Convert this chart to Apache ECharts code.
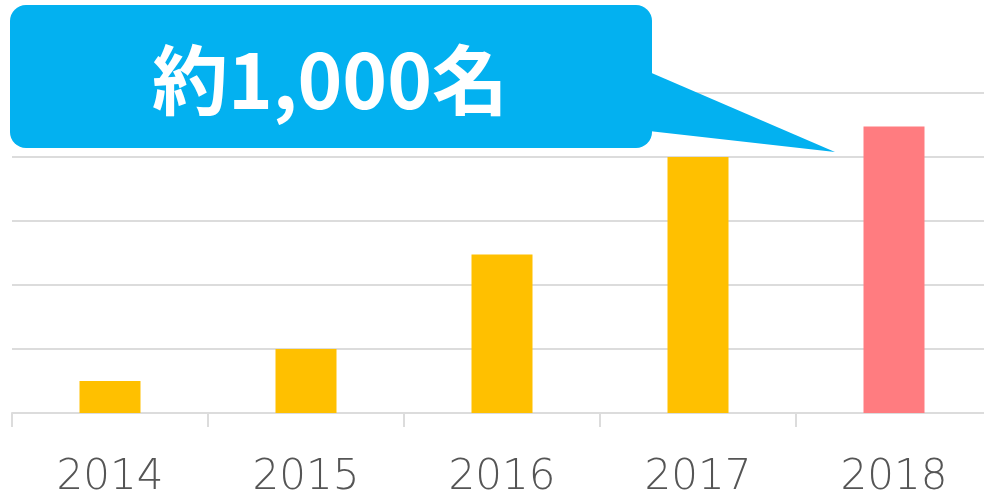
<!DOCTYPE html>
<html>
<head>
<meta charset="utf-8">
<script src="https://cdn.jsdelivr.net/npm/echarts@6/dist/echarts.min.js"></script>
<style>
  html, body { margin: 0; padding: 0; background: #fff; }
  #chart { width: 984px; height: 493px; }
</style>
</head>
<body>
<div id="chart"></div>
<script>
// 年度ごとの人数
const years = ['2014', '2015', '2016', '2017', '2018']
const counts = [100, 200, 495, 800, 895]
const barColors = ['#FFC000', '#FFC000', '#FFC000', '#FFC000', '#FF7C80']
const calloutText = '約1,000名'

const chart = echarts.init(document.getElementById('chart'))

const option = {
  animation: false,
  grid: {
    left: 12,
    width: 980,
    top: 93,
    bottom: 80,
    containLabel: false,
    outerBoundsMode: 'none'
  },
  xAxis: {
    type: 'category',
    data: years,
    axisLine: { lineStyle: { color: '#dcdcdc', width: 2 } },
    axisTick: { show: true, length: 14, lineStyle: { color: '#dcdcdc', width: 2 } },
    axisLabel: {
      color: '#555',
      fontFamily: 'DejaVu Sans',
      fontWeight: 200,
      fontSize: 42,
      margin: 44
    }
  },
  yAxis: {
    type: 'value',
    min: 0,
    max: 1000,
    interval: 200,
    axisLabel: { show: false },
    axisLine: { show: false },
    axisTick: { show: false },
    splitLine: { lineStyle: { color: '#dcdcdc', width: 2 } }
  },
  series: [
    {
      type: 'bar',
      barWidth: 61,
      data: counts.map((v, i) => ({ value: v, itemStyle: { color: barColors[i] } }))
    }
  ],
  // 吹き出し
  graphic: [
    {
      type: 'polygon',
      z: 100,
      shape: { points: [[640, 68], [835, 152], [640, 130]] },
      style: { fill: '#03B1F0' }
    },
    {
      type: 'rect',
      z: 100,
      shape: { x: 10, y: 5, width: 642, height: 143, r: 16 },
      style: { fill: '#03B1F0' }
    },
    {
      type: 'text',
      z: 101,
      x: 330,
      y: 80,
      style: {
        text: calloutText,
        fill: '#fff',
        font: 'bold 76px "Noto Sans CJK JP"',
        align: 'center',
        verticalAlign: 'middle'
      }
    }
  ]
}

chart.setOption(option)
</script>
</body>
</html>
